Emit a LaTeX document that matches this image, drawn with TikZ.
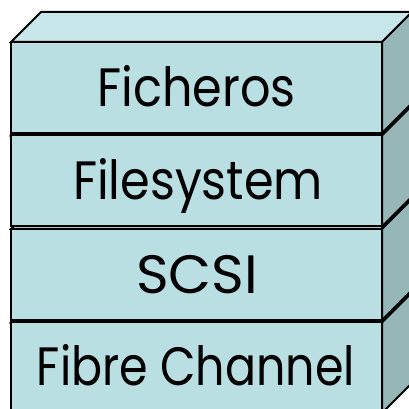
\documentclass[tikz,border=0pt]{standalone}
\usepackage{fontspec}
\setmainfont{Poppins}
\definecolor{frontc}{RGB}{185,223,227}
\definecolor{topc}{RGB}{199,230,234}
\definecolor{sidec}{RGB}{150,182,183}
\tikzset{
  face/.style={draw=black, line width=2pt, line join=miter},
  lbl/.style={font=\fontsize{54pt}{60pt}\selectfont, inner sep=0pt, anchor=base, text=black},
}
\newcommand\layerbox[2]{%
  \path[face, fill=topc] (11,{409-#1}) -- (41,{439-#1}) -- (412,{439-#1}) -- (382,{409-#1}) -- cycle;
  \path[face, fill=sidec] (382,{409-#1}) -- (412,{439-#1}) -- (412,{439-#2}) -- (382,{409-#2}) -- cycle;
  \path[face, fill=frontc] (11,{409-#1}) rectangle (382,{409-#2});
}
\begin{document}
\begin{tikzpicture}[x=1pt,y=1pt]
\useasboundingbox (0,0) rectangle (409,409);
\clip (0,0) rectangle (409,409);
\layerbox{322.5}{413}
\layerbox{229}{320}
\layerbox{135.5}{226.5}
\layerbox{42}{133}
\node[lbl] (ficheros) at (196.5,{409-106.5}) {\resizebox{198pt}{\height}{Ficheros}};
\node[lbl] (filesystem) at (198,{409-200}) {\resizebox{250pt}{\height}{Filesystem}};
\node[lbl] (scsi) at (197,{409-293.5}) {\resizebox{122pt}{\height}{SCSI}};
\node[lbl] (fibre) at (196,{409-386}) {\resizebox{318pt}{\height}{Fibre Channel}};
\end{tikzpicture}
\end{document}
